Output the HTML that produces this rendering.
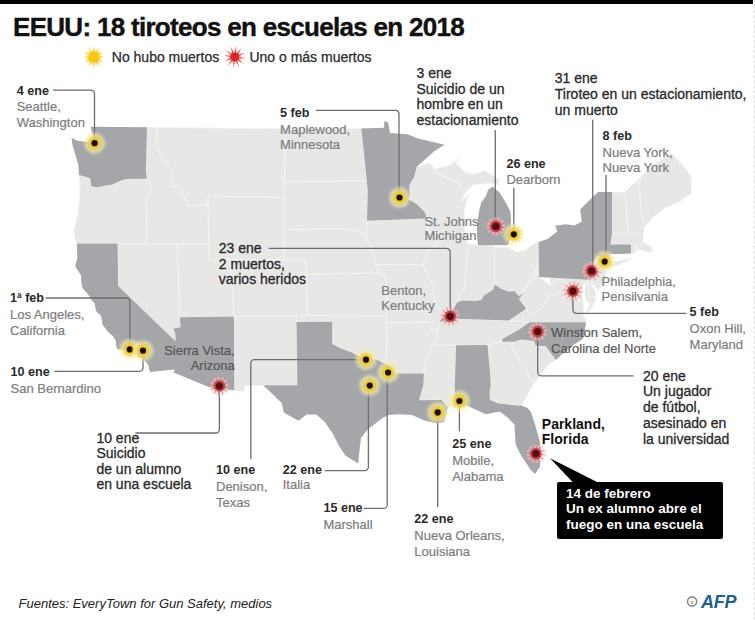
<!DOCTYPE html>
<html><head><meta charset="utf-8"><style>
html,body{margin:0;padding:0;background:#fff}
body{width:755px;height:620px;position:relative;overflow:hidden;font-family:"Liberation Sans",sans-serif}
.t{position:absolute;font-size:13.5px;line-height:15.5px;white-space:nowrap}
.b{color:#2a2a2a;font-weight:bold;font-size:12.6px}
.d{color:#2a2a2a;font-size:14px;-webkit-text-stroke:0.3px #2a2a2a}
.g{color:#7c7c7c;font-size:13px;-webkit-text-stroke:0.2px currentColor}
.w{color:#555}
.k{color:#111;font-weight:bold;font-size:14px}
#bar{position:absolute;left:0;top:0;width:753px;height:3.5px;background:#000}
#title{position:absolute;left:13px;top:12px;font-size:26px;font-weight:bold;color:#111;white-space:nowrap;letter-spacing:-0.7px;-webkit-text-stroke:0.4px #111}
.leg{position:absolute;top:49px;font-size:14px;color:#2a2a2a;white-space:nowrap;-webkit-text-stroke:0.25px #2a2a2a}
#box{position:absolute;left:557.3px;top:481.5px;width:165.6px;height:57px;background:#000;border-radius:2px}
#boxt{position:absolute;left:566px;top:485.5px;color:#fff;font-weight:bold;font-size:13.5px;line-height:15.6px;white-space:nowrap}
#src{position:absolute;left:18.5px;top:596px;font-style:italic;font-size:13px;color:#222;white-space:nowrap}
#afp{position:absolute;left:701px;top:591.5px;font-style:italic;font-weight:bold;font-size:18px;color:#1f5f92;letter-spacing:-0.3px}
</style></head><body>
<svg width="755" height="620" viewBox="0 0 755 620" style="position:absolute;left:0;top:0">
<defs>
<radialGradient id="yg"><stop offset="0" stop-color="#f7c600"/><stop offset="0.45" stop-color="#f9d84a"/><stop offset="1" stop-color="#fff4c0" stop-opacity="0"/></radialGradient>
<radialGradient id="rg"><stop offset="0" stop-color="#c8202a"/><stop offset="0.45" stop-color="#e0606a"/><stop offset="1" stop-color="#f5c0c0" stop-opacity="0"/></radialGradient>
<filter id="bl" x="-50%" y="-50%" width="200%" height="200%"><feGaussianBlur stdDeviation="0.7"/></filter>
<filter id="bl3" x="-50%" y="-50%" width="200%" height="200%"><feGaussianBlur stdDeviation="1.2"/></filter><filter id="bl4" x="-50%" y="-50%" width="200%" height="200%"><feGaussianBlur stdDeviation="0.4"/></filter>
<filter id="bl2" x="-50%" y="-50%" width="200%" height="200%"><feGaussianBlur stdDeviation="1.6"/></filter>
<g id="ys"><circle r="10.5" fill="#f8f0b8" opacity="0.65" filter="url(#bl2)"/><polygon points="11.00,0.00 3.90,0.89 9.91,4.77 3.13,2.49 6.86,8.60 1.74,3.60 2.45,10.72 0.00,4.00 -2.45,10.72 -1.74,3.60 -6.86,8.60 -3.13,2.49 -9.91,4.77 -3.90,0.89 -11.00,0.00 -3.90,-0.89 -9.91,-4.77 -3.13,-2.49 -6.86,-8.60 -1.74,-3.60 -2.45,-10.72 -0.00,-4.00 2.45,-10.72 1.74,-3.60 6.86,-8.60 3.13,-2.49 9.91,-4.77 3.90,-0.89" fill="#efd24e" opacity="0.5" filter="url(#bl)"/><circle r="6.2" fill="#ebc92c" opacity="0.9" filter="url(#bl3)"/><circle r="3.1" fill="#1a0c04" filter="url(#bl4)"/></g>
<g id="rs"><g filter="url(#bl)"><circle r="9.5" fill="#f3c8c8" opacity="0.45"/><polygon points="11.40,1.49 3.23,1.34 9.13,6.99 2.13,2.77 4.41,10.62 0.46,3.47 -1.49,11.40 -1.34,3.23 -6.99,9.13 -2.77,2.13 -10.62,4.41 -3.47,0.46 -11.40,-1.49 -3.23,-1.34 -9.13,-6.99 -2.13,-2.77 -4.41,-10.62 -0.46,-3.47 1.49,-11.40 1.34,-3.23 6.99,-9.13 2.77,-2.13 10.62,-4.41 3.47,-0.46" fill="#d9585e" opacity="0.65"/><circle r="5.8" fill="#bf3440" opacity="0.85"/><circle r="3.6" fill="#5a0a10"/></g></g>
<g id="ysl"><g filter="url(#bl)"><circle r="8" fill="#fbe27a" opacity="0.6"/><polygon points="11.50,0.00 4.35,1.16 9.96,5.75 3.18,3.18 5.75,9.96 1.16,4.35 0.00,11.50 -1.16,4.35 -5.75,9.96 -3.18,3.18 -9.96,5.75 -4.35,1.16 -11.50,0.00 -4.35,-1.16 -9.96,-5.75 -3.18,-3.18 -5.75,-9.96 -1.16,-4.35 -0.00,-11.50 1.16,-4.35 5.75,-9.96 3.18,-3.18 9.96,-5.75 4.35,-1.16" fill="#f7cf2a" opacity="0.8"/><circle r="5.5" fill="#f6c514"/></g></g>
<g id="rsl"><g filter="url(#bl)"><circle r="7" fill="#f0a0a0" opacity="0.4"/><polygon points="11.40,1.49 3.23,1.34 9.13,6.99 2.13,2.77 4.41,10.62 0.46,3.47 -1.49,11.40 -1.34,3.23 -6.99,9.13 -2.77,2.13 -10.62,4.41 -3.47,0.46 -11.40,-1.49 -3.23,-1.34 -9.13,-6.99 -2.13,-2.77 -4.41,-10.62 -0.46,-3.47 1.49,-11.40 1.34,-3.23 6.99,-9.13 2.77,-2.13 10.62,-4.41 3.47,-0.46" fill="#dc3a3a" opacity="0.85"/><circle r="4.5" fill="#d52a2a"/></g></g>
</defs>
<path d="M79.0 175.0L79.9 188.5L79.3 201.6L78.1 214.4L75.1 225.3L73.6 230.8L75.0 239.0L76.8 243.5L117.6 243.5L146.7 243.6L146.7 243.6L146.3 215.3L147.5 210.4L144.5 207.1L146.4 202.2L148.5 194.2L151.4 185.8L147.0 178.7L147.0 178.7L127.0 179.1L121.1 180.6L112.6 184.5L106.0 185.5L96.6 187.4L91.3 185.9L90.0 178.3L85.2 176.7L79.0 175.0ZM117.6 243.5L177.2 244.2L180.6 327.3L173.4 328.4L175.4 334.2L175.5 341.3L118.1 286.1ZM147.0 127.3L157.0 127.4L156.4 145.2L159.8 153.4L170.7 168.0L173.7 187.5L177.9 185.9L189.4 206.0L208.0 204.7L208.7 244.5L146.7 243.6L146.3 215.3L147.5 210.4L144.5 207.1L146.4 202.2L148.5 194.2L151.4 185.8L147.0 178.7L145.9 171.5ZM157.0 127.4L285.6 128.9L283.8 197.4L207.9 196.5L208.0 204.7L189.4 206.0L177.9 185.9L173.7 187.5L170.7 168.0L159.8 153.4L156.4 145.2ZM207.9 196.5L283.8 197.4L284.1 259.8L209.2 259.9ZM177.2 244.2L208.7 244.5L209.2 259.9L230.5 259.8L233.9 316.5L179.8 317.3ZM230.5 259.8L306.0 259.8L307.4 315.3L233.9 316.5ZM233.9 316.5L296.3 315.4L297.3 385.3L263.1 385.3L244.5 386.0L244.2 391.7L234.3 390.3ZM296.3 315.4L386.5 315.6L386.2 322.7L387.4 338.7L385.4 364.2L377.3 359.8L370.5 359.2L361.0 357.6L351.7 352.4L340.2 348.0L332.2 343.9L332.2 321.8L296.5 321.9ZM306.3 274.4L380.3 272.7L383.5 274.7L387.4 285.4L386.5 315.6L307.4 315.3ZM283.7 229.4L344.4 229.1L358.7 231.1L365.5 236.2L371.2 248.0L374.1 255.3L375.1 264.4L380.3 272.7L306.3 274.4L306.0 259.8L284.1 259.8ZM284.0 181.8L366.8 181.0L367.7 191.6L367.0 220.7L365.5 236.2L358.7 231.1L344.4 229.1L283.7 229.4ZM285.6 128.9L361.3 128.4L363.2 145.9L366.8 181.0L284.0 181.8ZM367.0 220.7L426.4 218.5L427.8 229.7L433.0 233.3L438.5 243.5L428.5 252.6L423.1 264.9L375.1 264.4L374.1 255.3L371.2 248.0L365.5 236.2ZM375.1 264.4L423.1 264.9L427.2 273.2L433.7 286.2L433.6 299.4L440.5 309.6L444.6 314.8L442.3 317.1L440.1 321.8L438.0 329.5L430.7 329.7L433.0 322.0L386.2 322.7L387.4 285.4L383.5 274.7L380.3 272.7ZM386.2 322.7L433.0 322.0L430.7 329.7L438.0 329.5L434.1 343.3L431.9 344.8L429.0 353.7L424.9 362.3L423.8 373.5L389.8 373.5L389.9 365.9L385.4 364.2L387.4 338.7ZM431.9 344.8L456.0 345.2L454.7 388.0L455.4 406.5L447.8 407.4L441.4 399.9L419.1 400.3L420.5 395.1L423.5 384.4L423.8 373.5L424.9 362.3L429.0 353.7L431.9 344.8ZM487.5 345.0L502.0 341.8L514.4 341.7L511.5 345.8L517.5 356.0L520.4 361.9L525.3 366.2L528.5 376.1L534.5 383.0L531.0 388.0L527.0 396.0L524.5 401.0L521.5 405.5L517.0 405.5L498.0 403.2L490.0 400.0L489.5 391.8L490.8 386.2L490.1 374.1ZM514.4 341.7L521.4 339.5L534.0 341.1L535.6 345.8L545.4 345.9L556.0 360.0L548.0 365.0L538.5 377.7L534.5 383.0L528.5 376.1L525.3 366.2L520.4 361.9L517.5 356.0L511.5 345.8ZM456.0 345.2L431.9 344.8L434.1 343.3L438.0 329.5L440.1 321.8L456.1 321.5L456.1 318.8L508.7 320.5L529.5 322.2L520.1 329.1L510.7 334.2L502.3 339.0L502.0 341.8L487.5 345.0ZM508.7 320.5L529.5 322.2L586.0 322.3L585.7 317.6L582.8 316.6L583.5 308.8L583.7 303.4L576.7 299.3L575.6 293.7L575.3 290.4L571.2 286.4L568.9 284.6L567.9 287.3L563.0 288.9L556.0 295.9L549.2 294.2L543.0 307.1L536.1 312.7L529.2 313.8L526.2 308.8ZM590.1 304.0L594.0 302.9L590.2 310.0L585.9 315.3L587.4 310.0ZM538.6 262.7L539.0 277.0L550.5 285.4L557.4 279.8L562.2 279.3L568.9 284.6L567.9 287.3L563.0 288.9L556.0 295.9L549.2 294.2L543.0 307.1L536.1 312.7L529.2 313.8L526.2 308.8L519.0 299.3L518.8 295.9L536.8 269.5L535.5 278.7L527.3 284.5L522.8 293.2ZM550.1 277.5L588.3 279.7L588.8 297.3L596.1 297.2L594.0 302.9L590.1 304.0L585.7 299.3L584.6 292.5L585.4 284.8L586.3 282.0L582.4 285.4L581.6 291.0L582.7 299.3L583.7 303.4L576.7 299.3L575.6 293.7L575.3 290.4L571.2 286.4L568.9 284.6L562.2 279.3L557.4 279.8L550.5 285.4L550.1 277.5ZM588.3 279.7L591.9 278.6L590.7 281.4L592.4 285.6L595.6 292.5L596.1 297.2L588.8 297.3ZM597.8 256.0L606.6 261.3L605.8 265.7L603.4 268.6L606.1 270.0L605.5 279.2L597.6 290.7L596.0 287.0L591.3 282.8L591.9 278.6L594.7 276.6L598.3 272.7L593.4 265.9L594.0 260.6ZM606.5 267.5L617.1 265.7L629.0 260.0L630.8 257.9L621.7 260.4L610.1 262.8ZM612.0 192.1L624.5 192.1L626.0 205.0L627.0 220.0L628.0 233.5L612.0 233.5L612.0 218.0L612.0 205.0ZM624.5 192.1L638.0 180.0L640.0 195.0L641.0 212.0L644.4 227.2L643.5 233.5L628.0 233.5L627.0 220.0L626.0 205.0ZM638.0 180.0L652.0 166.0L671.0 153.0L681.0 163.0L691.0 176.0L691.5 194.0L683.6 198.0L680.7 201.0L664.7 208.3L653.0 217.0L644.4 227.2L641.0 212.0L640.0 195.0ZM610.5 244.5L612.0 233.5L628.0 233.5L643.5 233.5L642.6 241.3L646.0 244.0L651.0 246.0L653.0 252.0L648.0 252.0L641.0 250.0L637.0 250.0L637.0 244.5L631.0 244.5ZM631.0 244.5L637.0 244.5L637.0 250.0L634.0 253.0L631.0 253.5ZM494.6 247.2L507.5 247.7L512.0 249.5L517.3 252.0L525.7 249.9L533.2 244.1L538.6 242.1L538.6 262.7L536.8 269.5L535.5 278.7L527.3 284.5L522.8 293.2L518.8 295.9L514.3 291.0L509.1 291.7L501.5 289.1L494.8 284.4L494.8 284.4ZM468.0 244.0L494.5 246.4L494.8 284.4L492.9 290.1L483.9 295.5L481.5 299.8L475.6 301.0L462.6 300.6L457.5 302.0L459.7 294.7L464.4 288.9L465.3 279.3ZM433.0 233.3L464.8 233.4L467.2 242.0L468.0 244.0L465.3 279.3L464.4 288.9L459.7 294.7L457.5 302.0L451.4 312.4L444.6 314.8L440.5 309.6L433.6 299.4L433.7 286.2L427.2 273.2L423.1 264.9L428.5 252.6L438.5 243.5ZM433.0 233.3L464.8 233.4L464.3 226.3L464.2 211.8L466.4 200.0L470.5 192.6L464.4 199.1L460.5 202.6L464.1 195.2L458.7 183.5L452.5 179.8L437.9 174.0L434.8 169.3L429.5 162.7L423.1 165.2L416.6 167.0L414.2 177.1L409.2 185.5L409.7 195.2L408.5 199.3L417.5 204.7L425.4 213.1L426.4 218.5L427.8 229.7ZM434.8 169.3L449.4 165.2L459.6 158.1L460.6 155.1L455.5 163.0L465.5 172.5L474.4 174.2L484.3 170.8L493.3 175.7L499.5 180.1L497.5 184.3L489.3 183.1L481.4 184.1L473.6 184.9L466.9 190.7L464.1 195.2L458.7 183.5L452.5 179.8L437.9 174.0Z" fill="#e7e7e6" stroke="#f2f2f1" stroke-width="0.8" stroke-linejoin="round"/>
<path d="M147.0 127.3L90.7 126.8L92.8 136.8L87.0 141.8L78.2 141.1L71.5 137.8L72.4 144.7L78.3 164.5L79.0 175.0L79.0 175.0L85.2 176.7L90.0 178.3L91.3 185.9L96.6 187.4L106.0 185.5L112.6 184.5L121.1 180.6L127.0 179.1L147.0 178.7L145.9 171.5ZM76.8 243.5L76.9 247.2L77.4 257.4L75.1 266.2L79.1 272.5L81.1 275.3L81.3 282.4L82.5 288.0L89.7 296.4L91.9 300.6L94.9 303.4L95.2 307.6L96.5 311.8L100.6 315.3L102.0 320.2L102.3 324.4L108.8 332.7L113.0 336.1L115.7 340.8L116.5 347.4L117.9 349.4L126.3 349.7L130.2 352.7L134.0 354.0L136.9 353.9L137.9 357.4L140.7 357.2L144.6 360.8L148.5 365.0L148.9 368.7L150.0 372.0L174.6 369.5L176.8 357.6L180.6 350.4L175.5 341.3L118.1 286.1L117.6 243.5ZM179.8 317.3L233.9 316.5L234.3 390.3L212.4 388.5L173.6 372.4L174.6 369.5L176.8 357.6L180.6 350.4L175.5 341.3L175.4 334.2L173.4 328.4L180.6 327.3ZM296.5 321.9L332.2 321.8L332.2 343.9L340.2 348.0L351.7 352.4L361.0 357.6L370.5 359.2L377.3 359.8L385.4 364.2L389.9 365.9L389.8 373.5L390.4 387.2L393.5 393.7L396.8 400.3L395.7 413.0L388.1 414.9L381.5 418.8L369.6 428.1L366.3 431.3L361.0 438.0L359.8 447.4L358.2 463.5L345.3 455.5L338.9 445.8L332.4 432.9L324.4 421.6L316.3 414.4L306.6 414.4L298.5 420.8L284.0 412.7L281.6 403.0L272.7 394.2L263.1 385.3L297.3 385.3ZM361.3 128.4L384.1 127.8L384.3 121.1L388.1 122.4L390.0 133.0L407.4 134.3L418.1 138.5L428.8 141.1L444.5 144.8L433.9 151.5L416.6 167.0L414.2 177.1L409.2 185.5L409.7 195.2L408.5 199.3L417.5 204.7L425.4 213.1L426.4 218.5L367.0 220.7L367.7 191.6L366.8 181.0L363.2 145.9ZM389.8 373.5L423.8 373.5L423.5 384.4L420.5 395.1L419.1 400.3L441.4 399.9L447.8 407.4L446.0 415.0L444.0 422.0L437.0 423.5L429.0 421.5L423.9 420.2L412.0 414.9L398.7 414.2L388.1 414.9L395.7 413.0L396.8 400.3L393.5 393.7L390.4 387.2L389.8 373.5ZM456.0 345.2L487.5 345.0L490.1 374.1L490.8 386.2L489.5 391.8L490.0 400.0L466.0 399.5L466.0 405.5L461.3 406.5L455.4 406.5L454.7 388.0ZM466.0 399.5L490.0 400.0L498.0 403.2L517.0 405.5L521.5 405.5L527.5 408.0L531.0 412.0L535.0 424.5L539.8 441.3L540.6 452.6L539.8 467.0L535.0 473.9L531.0 470.3L521.3 455.8L515.6 444.5L514.5 424.5L507.0 417.0L499.7 411.5L485.8 414.3L470.0 406.9L466.0 405.5ZM502.0 341.8L514.4 341.7L521.4 339.5L534.0 341.1L535.6 345.8L545.4 345.9L556.0 360.0L564.0 352.3L572.0 346.0L583.0 338.7L585.0 330.0L586.0 322.3L529.5 322.2L520.1 329.1L510.7 334.2L502.3 339.0ZM440.1 321.8L442.3 317.1L444.6 314.8L451.4 312.4L457.5 302.0L462.6 300.6L475.6 301.0L481.5 299.8L483.9 295.5L492.9 290.1L494.8 284.4L501.5 289.1L509.1 291.7L514.3 291.0L518.8 295.9L522.8 293.2L519.0 299.3L526.2 308.8L508.7 320.5L456.1 318.8L456.1 321.5ZM538.6 242.1L547.5 238.9L547.3 242.6L590.7 245.9L593.6 249.1L597.8 256.0L594.0 260.6L593.4 265.9L598.3 272.7L594.7 276.6L591.9 278.6L588.3 279.7L539.0 277.0ZM547.3 242.6L590.7 245.9L593.6 249.1L597.8 256.0L606.6 261.3L605.4 267.1L610.0 254.0L610.5 244.5L612.0 233.5L612.0 218.0L612.0 205.0L612.0 192.1L598.1 192.1L583.9 205.8L580.2 209.7L581.8 221.4L574.7 225.5L565.5 224.2L555.2 225.7L557.2 231.4L547.5 238.9ZM610.5 244.5L631.0 244.5L631.0 253.5L620.0 254.0L610.0 254.0ZM478.0 245.3L494.0 245.3L508.4 245.0L511.0 236.0L511.0 222.0L510.5 212.0L506.0 203.0L500.0 193.0L492.5 186.6L488.0 190.0L486.0 196.0L481.0 203.0L479.0 212.0L477.0 225.0L477.0 235.0Z" fill="#a5a6a9" stroke="none" stroke-linejoin="round"/>
<g fill="none" stroke="#6e6e6e" stroke-width="1.3"><path d="M53 90.1H91a3.5 3.5 0 0 1 3.5 3.5V140"/><path d="M316 110.3H395.5a3.5 3.5 0 0 1 3.5 3.5V195"/><path d="M495.3 130V224"/><path d="M513.8 187.7V232"/><path d="M592.7 119.8V268"/><path d="M606 175V259"/><path d="M572.9 293V309.8a3.5 3.5 0 0 0 3.5 3.5H686.5"/><path d="M268.7 248.4H446.7a3.5 3.5 0 0 1 3.5 3.5V314"/><path d="M537.7 334V372.3a3.5 3.5 0 0 0 3.5 3.5H633.6"/><path d="M45.6 298H126.3a3.5 3.5 0 0 1 3.5 3.5V347"/><path d="M54.3 371.4H139.5a3.5 3.5 0 0 0 3.5 -3.5V353"/><path d="M219.4 388V429.5a3.5 3.5 0 0 1 -3.5 3.5H135.4"/><path d="M366 359.7H254.3a3.5 3.5 0 0 0 -3.5 3.5V459"/><path d="M324.8 470.6H364.9a3.5 3.5 0 0 0 3.5 -3.5V388"/><path d="M364 508.4H383.7a3.5 3.5 0 0 0 3.5 -3.5V375"/><path d="M437.7 415V507"/><path d="M459.4 404V431.3"/></g>
<path d="M550 458.2L573.5 483H599Z" fill="#000"/>
<use href="#ys" x="94.6" y="143.2"/><use href="#ys" x="399.5" y="197.5"/><use href="#rs" x="495.8" y="226.4"/><use href="#ys" x="513.8" y="234.3"/><use href="#rs" x="591.6" y="270.9"/><use href="#ys" x="604.7" y="261.6"/><use href="#rs" x="572.9" y="291.1"/><use href="#rs" x="450.2" y="316.3"/><use href="#rs" x="537.7" y="331.6"/><use href="#ys" x="129.8" y="349.4"/><use href="#ys" x="143.0" y="350.7"/><use href="#rs" x="219.4" y="386.0"/><use href="#ys" x="366.0" y="359.7"/><use href="#ys" x="369.8" y="385.6"/><use href="#ys" x="388.1" y="372.5"/><use href="#ys" x="437.7" y="412.4"/><use href="#ys" x="459.4" y="401.0"/><use href="#rs" x="535.9" y="453.7"/>
<use href="#ysl" x="93.9" y="57.1"/><use href="#rsl" x="234.8" y="56.9"/>
<circle cx="692.1" cy="601.5" r="4.6" fill="none" stroke="#8a8a8a" stroke-width="1.6"/>
<text x="692.1" y="604" font-family="Liberation Sans" font-size="6" font-weight="bold" fill="#8a8a8a" text-anchor="middle">c</text>
</svg>
<div id="bar"></div>
<div id="title">EEUU: 18 tiroteos en escuelas en 2018</div>
<div class="leg" style="left:111.8px">No hubo muertos</div>
<div class="leg" style="left:249.4px">Uno o más muertos</div>
<div class="t b" style="left:16.7px;top:83.7px">4 ene</div><div class="t g" style="left:16.7px;top:99.2px">Seattle,</div><div class="t g" style="left:16.7px;top:114.7px">Washington</div><div class="t b" style="left:280.1px;top:106.0px">5 feb</div><div class="t g" style="left:280.1px;top:121.5px">Maplewood,</div><div class="t g" style="left:280.1px;top:137.0px">Minnesota</div><div class="t d" style="left:416.5px;top:66.0px">3 ene</div><div class="t d" style="left:416.5px;top:81.6px">Suicidio de un</div><div class="t d" style="left:416.5px;top:97.2px">hombre en un</div><div class="t d" style="left:416.5px;top:112.8px">estacionamiento</div><div class="t d" style="left:554.8px;top:71.0px">31 ene</div><div class="t d" style="left:554.8px;top:86.9px">Tiroteo en un estacionamiento,</div><div class="t d" style="left:554.8px;top:102.8px">un muerto</div><div class="t b" style="left:602.6px;top:129.4px">8 feb</div><div class="t g" style="left:602.6px;top:144.6px">Nueva York,</div><div class="t g" style="left:602.6px;top:159.8px">Nueva York</div><div class="t b" style="left:506.4px;top:156.8px">26 ene</div><div class="t g" style="left:506.4px;top:172.2px">Dearborn</div><div class="t g" style="left:424.4px;top:213.5px">St. Johns</div><div class="t g" style="left:424.4px;top:228.4px">Michigan</div><div class="t d" style="left:218.8px;top:241.3px">23 ene</div><div class="t d" style="left:218.8px;top:256.5px">2 muertos,</div><div class="t d" style="left:218.8px;top:271.7px">varios heridos</div><div class="t g" style="left:381.3px;top:282.7px">Benton,</div><div class="t g" style="left:381.3px;top:298.2px">Kentucky</div><div class="t g" style="left:601.5px;top:274.3px">Philadelphia,</div><div class="t g" style="left:601.5px;top:289.3px">Pensilvania</div><div class="t b" style="left:689.6px;top:304.8px">5 feb</div><div class="t g" style="left:689.6px;top:320.7px">Oxon Hill,</div><div class="t g" style="left:689.6px;top:336.6px">Maryland</div><div class="t b" style="left:10.0px;top:291.3px">1ª feb</div><div class="t g" style="left:10.0px;top:307.2px">Los Angeles,</div><div class="t g" style="left:10.0px;top:323.1px">California</div><div class="t b" style="left:10.6px;top:364.7px">10 ene</div><div class="t g" style="left:10.6px;top:381.4px">San Bernardino</div><div class="t g w" style="left:551.1px;top:325.1px">Winston Salem,</div><div class="t g w" style="left:551.1px;top:340.6px">Carolina del Norte</div><div class="t d" style="left:643.0px;top:368.6px">20 ene</div><div class="t d" style="left:643.0px;top:384.4px">Un jugador</div><div class="t d" style="left:643.0px;top:400.2px">de fútbol,</div><div class="t d" style="left:643.0px;top:416.0px">asesinado en</div><div class="t d" style="left:643.0px;top:431.8px">la universidad</div><div class="t k" style="left:541.8px;top:416.8px">Parkland,</div><div class="t k" style="left:541.8px;top:432.4px">Florida</div><div class="t b" style="left:452.2px;top:436.7px">25 ene</div><div class="t g" style="left:452.2px;top:452.9px">Mobile,</div><div class="t g" style="left:452.2px;top:469.1px">Alabama</div><div class="t b" style="left:414.3px;top:512.4px">22 ene</div><div class="t g" style="left:414.3px;top:528.3px">Nueva Orleans,</div><div class="t g" style="left:414.3px;top:544.2px">Louisiana</div><div class="t b" style="left:323.4px;top:501.0px">15 ene</div><div class="t g" style="left:323.4px;top:516.5px">Marshall</div><div class="t b" style="left:282.7px;top:462.9px">22 ene</div><div class="t g" style="left:282.7px;top:476.9px">Italia</div><div class="t b" style="left:216.0px;top:462.9px">10 ene</div><div class="t g" style="left:216.0px;top:478.9px">Denison,</div><div class="t g" style="left:216.0px;top:494.9px">Texas</div><div class="t d" style="left:96.4px;top:430.7px">10 ene</div><div class="t d" style="left:96.4px;top:446.2px">Suicidio</div><div class="t d" style="left:96.4px;top:461.7px">de un alumno</div><div class="t d" style="left:96.4px;top:477.2px">en una escuela</div><div class="t g" style="right:520.3px;top:342.7px;text-align:right;color:#555">Sierra Vista,<br>Arizona</div>
<div id="box"></div>
<div id="boxt">14 de febrero<br>Un ex alumno abre el<br>fuego en una escuela</div>
<div id="src">Fuentes: EveryTown for Gun Safety, medios</div>
<div id="afp">AFP</div>
<div style="position:absolute;left:753.5px;top:0;width:0;height:620px;border-left:1px dashed #e2e2e2"></div>
</body></html>
